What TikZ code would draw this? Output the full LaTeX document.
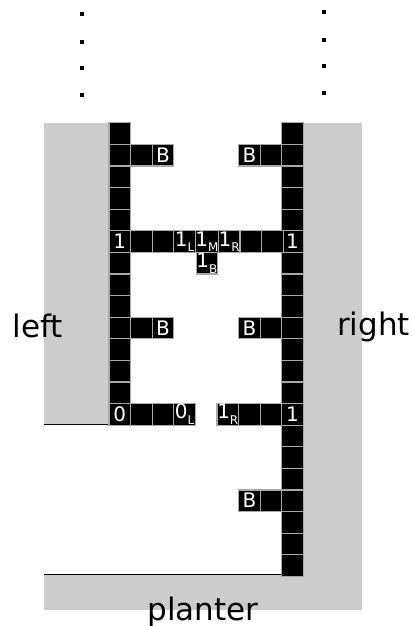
\documentclass[tikz,border=0pt]{standalone}
\usepackage{fontspec}
\setmainfont{DejaVu Sans}
\usepackage{tikz}
\usetikzlibrary{positioning}
\definecolor{WallGray}{HTML}{CCCCCC}
\definecolor{CellEdge}{HTML}{A8A8A8}
\newcommand{\sublbl}[2]{#1\raisebox{-0.5ex}{\fontsize{12}{12}\selectfont #2}}

\begin{document}
\begin{tikzpicture}[
    x=1pt,y=-1pt,
    node distance=0pt,
    cell/.style={draw=CellEdge,fill=black,line width=1.2pt,minimum size=21.6pt,
      inner sep=0pt,outer sep=0pt,text=white,font=\fontsize{20}{20}\selectfont},
    wall/.style={fill=WallGray},
    lbl/.style={font=\fontsize{31}{31}\selectfont,anchor=base,inner sep=0pt}
  ]
    \useasboundingbox (0,0) rectangle (412,626);
    % walls
    \fill[wall] (44,122.7) rectangle (109,424.3);
    \fill[wall] (304,122.7) rectangle (362,610);
    \fill[wall] (44,574.5) rectangle (362,610);
    \draw[line width=1pt] (44,424.3) -- (130,424.3);
    \draw[line width=1pt] (44,574.5) -- (282,574.5);
    % dots
    \foreach \y in {14,41.7,68.3,95} \fill (79.7,\y-2) rectangle +(4,4);
    \foreach \y in {12.3,39.7,66.3,93.3} \fill (322,\y-2) rectangle +(4,4);
    % left column
    \foreach \r in {0,...,4,6,7,...,12}
      \node[cell] (l\r) at (119.8,133.5+21.6*\r) {};
    \node[cell] (l5) at (119.8,133.5+21.6*5) {1};
    \node[cell] (l13) at (119.8,133.5+21.6*13) {0};
    % right column
    \foreach \r in {0,...,4,6,7,...,12,14,15,...,20}
      \node[cell] (r\r) at (292.6,133.5+21.6*\r) {};
    \node[cell] (r5) at (292.6,133.5+21.6*5) {1};
    \node[cell] (r13) at (292.6,133.5+21.6*13) {1};
    % arms
    \node[cell,right=of l1] (la1) {};
    \node[cell,right=of la1] (lb1) {B};
    \node[cell,left=of r1] (ra1) {};
    \node[cell,left=of ra1] (rb1) {B};
    \node[cell,right=of l9] (la9) {};
    \node[cell,right=of la9] (lb9) {B};
    \node[cell,left=of r9] (ra9) {};
    \node[cell,left=of ra9] (rb9) {B};
    \node[cell,left=of r17] (ra17) {};
    \node[cell,left=of ra17] (rb17) {B};
    % bridge
    \node[cell,right=of l5] (m1) {};
    \node[cell,right=of m1] (m2) {};
    \node[cell,right=of m2] (ml) {\sublbl{1}{L}};
    \node[cell,right=of ml] (mm) {\sublbl{1}{M}};
    \node[cell,right=of mm] (mr) {\sublbl{1}{R}};
    \node[cell,right=of mr] (m6) {};
    \node[cell,right=of m6] (m7) {};
    \node[cell,below=of mm] (mb) {\sublbl{1}{B}};
    % broken bridge
    \node[cell,right=of l13] (c1) {};
    \node[cell,right=of c1] (c2) {};
    \node[cell,right=of c2] (cl) {\sublbl{0}{L}};
    \node[cell,left=of r13] (d7) {};
    \node[cell,left=of d7] (d6) {};
    \node[cell,left=of d6] (dr) {\sublbl{1}{R}};
    % labels
    \node[lbl] (left) at (38,337) {left};
    \node[lbl] (right) at (373.5,335) {right};
    \node[lbl] (planter) at (203,620) {planter};
  \end{tikzpicture}
\end{document}
